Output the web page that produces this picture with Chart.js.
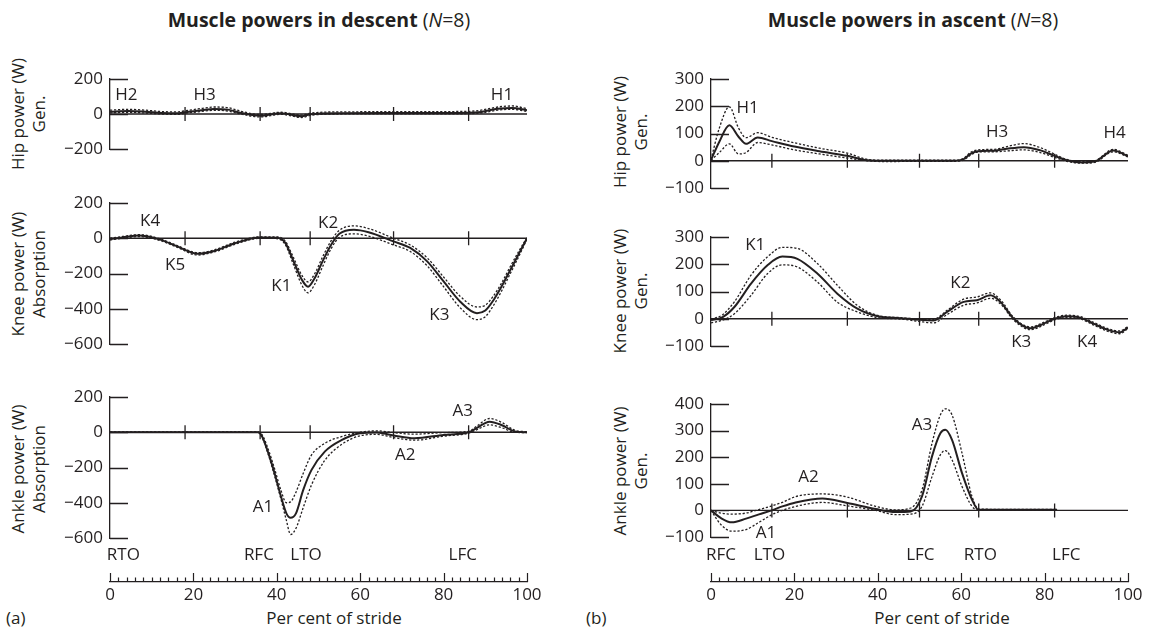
<!DOCTYPE html>
<html>
<head>
<meta charset="utf-8">
<title>Muscle powers in descent and ascent</title>
<script src="https://cdn.jsdelivr.net/npm/chart.js@4.4.1/dist/chart.umd.min.js"></script>
<style>
  body { margin: 0; background: #fff; }
  #page { position: relative; width: 1150px; height: 639px; overflow: hidden; font-family: "Open Sans", sans-serif; color: #231f20; }
  #page canvas { position: absolute; }
  .txt { position: absolute; white-space: nowrap; font-size: 17px; }
  .title { top: 6px; font-size: 19.5px; transform: translateX(-50%); }
  .ytitle { line-height: 21px; text-align: center; transform: translate(-50%, -50%) rotate(-90deg); }
  .xtitle { top: 606px; transform: translateX(-50%); }
</style>
</head>
<body>
<div id="page">
  <div class="txt title" style="left:319px"><b>Muscle powers in descent</b> (<i>N</i>=8)</div>
  <div class="txt title" style="left:913px"><b>Muscle powers in ascent</b> (<i>N</i>=8)</div>

  <div class="txt ytitle" style="left:28px;top:114px">Hip power (W)<br>Gen.</div>
  <div class="txt ytitle" style="left:28px;top:274px">Knee power (W)<br>Absorption</div>
  <div class="txt ytitle" style="left:28px;top:469px">Ankle power (W)<br>Absorption</div>
  <div class="txt ytitle" style="left:630px;top:132px">Hip power (W)<br>Gen.</div>
  <div class="txt ytitle" style="left:630px;top:291px">Knee power (W)<br>Gen.</div>
  <div class="txt ytitle" style="left:630px;top:471px">Ankle power (W)<br>Gen.</div>

  <div class="txt" style="left:6px;top:606px">(a)</div>
  <div class="txt" style="left:586px;top:606px">(b)</div>
  <div class="txt xtitle" style="left:334px">Per cent of stride</div>
  <div class="txt xtitle" style="left:942px">Per cent of stride</div>
</div>

<script>
'use strict';

const ink = '#231f20';
const fontFamily = '"Open Sans", sans-serif';

// ---- descent (a) ----
let descEvents = [18, 36, 48, 68, 86];
let descEventNames = ['RTO', 'RFC', 'LTO', 'LFC'];
let descEventAt = [3.2, 35.7, 47, 84.6];

let descHipX = [0, 4.4, 8.4, 12.4, 16, 18, 22, 25, 28.3, 31.5, 36, 41, 46, 48, 55, 68, 80, 86, 89, 93, 96.5, 100];
let descHipMean = [13, 17, 13, 6, 4, 10, 22, 29, 25, 6, -10, 4, -13, -2, 5, 6, 6, 7, 12, 30, 35, 22];
let descHipPlus = [22, 27, 22, 14, 12, 18, 32, 40, 36, 15, -3, 10, -6, 5, 12, 13, 14, 15, 22, 40, 46, 30];
let descHipMinus = [6, 10, 6, 0, -2, 4, 15, 21, 17, -1, -17, -2, -20, -8, 0, 1, 1, 2, 6, 22, 27, 15];
let descHipNotes = [['H2', 3.9, 108], ['H3', 22.7, 108], ['H1', 94, 108]];

let descKneeX = [0, 3, 7, 12, 16, 21, 25, 30, 36, 40, 42, 44, 46, 47.5, 49, 51, 53, 55, 58.5, 62, 68, 72, 76, 80, 84, 88, 90, 92, 94, 96, 98, 100];
let descKneeMean = [-5, 5, 15, -8, -45, -88, -72, -28, 4, 3, -25, -130, -235, -275, -230, -130, -38, 25, 48, 34, -18, -55, -130, -245, -360, -425, -410, -350, -270, -180, -90, 0];
let descKneePlus = [0, 10, 20, -3, -40, -82, -66, -22, 8, 8, -15, -110, -210, -248, -205, -105, -15, 45, 70, 55, 0, -38, -110, -220, -330, -390, -380, -325, -250, -160, -75, 5];
let descKneeMinus = [-10, 0, 10, -13, -50, -95, -78, -34, 0, -2, -35, -150, -265, -310, -265, -160, -60, 5, 25, 12, -38, -75, -155, -275, -395, -462, -445, -380, -295, -200, -105, -5];
let descKneeNotes = [['K4', 9.6, 95], ['K5', 15.6, -151], ['K1', 41.1, -274], ['K2', 52.3, 85], ['K3', 79, -435]];

let descAnkleX = [0, 20, 35.5, 36.5, 38, 39.5, 41, 42.3, 43.3, 44.6, 46.3, 48.3, 51.5, 55.5, 60, 64, 68, 73, 80, 86, 88, 91, 94, 97, 100];
let descAnkleMean = [0, 0, 0, -25, -120, -235, -365, -460, -485, -460, -330, -215, -110, -45, -6, -2, -18, -34, -15, 0, 25, 60, 40, 5, 0];
let descAnklePlus = [0, 0, 0, -15, -100, -210, -330, -400, -395, -340, -235, -130, -63, -25, 0, 8, -2, -11, -2, 5, 35, 78, 55, 12, 2];
let descAnkleMinus = [0, 0, 0, -30, -130, -250, -380, -500, -580, -545, -430, -300, -160, -70, -20, -12, -30, -45, -22, -5, 15, 42, 25, 0, -2];
let descAnkleNotes = [['A1', 36.7, -423], ['A2', 70.8, -129], ['A3', 84.6, 118]];

// ---- ascent (b) ----
let ascEvents = [14.6, 32.7, 50, 64.2, 82.4];
let ascEventNames = ['RFC', 'LTO', 'LFC', 'RTO', 'LFC'];
let ascEventAt = [2.4, 14, 50.2, 64.6, 85.2];

let ascHipX = [0, 2, 4.4, 6.6, 8.4, 11.2, 14.6, 20, 26, 32.7, 37.5, 42, 50, 58, 60.5, 62.2, 64, 68, 71, 75, 79, 82.4, 85.3, 89, 92, 96.5, 100];
let ascHipMean = [3, 70, 130, 88, 62, 85, 72, 52, 35, 18, 2, 0, 0, 0, 5, 25, 35, 37, 44, 50, 38, 18, 2, -6, -3, 38, 17];
let ascHipPlus = [5, 120, 198, 120, 85, 103, 86, 66, 46, 28, 5, 2, 2, 2, 8, 30, 40, 42, 52, 63, 48, 24, 5, -3, 0, 42, 20];
let ascHipMinus = [2, 30, 62, 25, 30, 67, 58, 40, 25, 10, 0, -3, -2, -2, 2, 20, 32, 33, 36, 40, 30, 12, -2, -9, -6, 33, 14];
let ascHipNotes = [['H1', 8.8, 193], ['H3', 68.6, 105], ['H4', 96.8, 101]];

let ascKneeX = [0, 2.8, 5.6, 9.6, 13.6, 17.1, 20.7, 25.5, 30.3, 35.1, 40, 45.5, 50, 53.4, 56.6, 60.6, 63.8, 67, 69.4, 72.6, 76.6, 79.8, 82.4, 85.3, 88.5, 92, 95, 98, 100];
let ascKneeMean = [-5, 6, 43, 129, 197, 228, 220, 166, 92, 37, 9, 2, -4, -6, 25, 62, 68, 86, 62, 0, -35, -18, 0, 9, 4, -20, -40, -50, -32];
let ascKneePlus = [-2, 15, 62, 160, 228, 262, 258, 203, 123, 49, 12, 4, -1, -2, 31, 72, 80, 95, 70, 5, -30, -13, 4, 13, 8, -15, -35, -45, -28];
let ascKneeMinus = [-15, -5, 18, 86, 166, 198, 190, 135, 61, 25, 4, -1, -10, -15, 15, 50, 58, 75, 55, -5, -40, -23, -4, 5, 0, -25, -45, -55, -36];
let ascKneeNotes = [['K1', 10.6, 270], ['K2', 59.8, 129], ['K3', 74.4, -86], ['K4', 90.2, -86]];

let ascAnkleX = [0, 2.4, 5, 8.4, 11.5, 14.6, 17.1, 20.3, 26.7, 32.7, 39.5, 44.3, 47.9, 50.6, 53, 55, 56.2, 57.8, 60.2, 62.6, 64.2, 70, 83];
let ascAnkleMean = [0, -29, -45, -31, -15, 0, 15, 30, 45, 28, 5, -6, -4, 53, 203, 290, 303, 265, 140, 40, 2, 2, 2];
let ascAnklePlus = [0, -10, -14, -10, 3, 17, 30, 52, 62, 50, 15, 2, 9, 77, 252, 359, 382, 359, 215, 52, 5, 4, 4];
let ascAnkleMinus = [0, -54, -78, -72, -45, -16, 0, 15, 30, 17, 0, -16, -14, 15, 127, 209, 225, 190, 90, 15, 0, 0, 0];
let ascAnkleNotes = [['A1', 13.2, -85], ['A2', 23.4, 125], ['A3', 50.6, 321]];

let strideTickLabels = [0, 20, 40, 60, 80, 100];

function minusSign(v) {
    return v < 0 ? '\u2212' + Math.abs(v) : String(v);
}

// zero line, inward y ticks, gait event marks and peak names
const panelDeco = {
    id: 'panelDeco',
    beforeDatasetsDraw(chart, args, opts) {
        let ctx = chart.ctx;
        let a = chart.chartArea;
        let x = chart.scales.x;
        let y = chart.scales.y;
        let y0 = y.getPixelForValue(0);
        ctx.save();
        ctx.strokeStyle = ink;
        ctx.lineWidth = 1.3;
        ctx.beginPath();
        ctx.moveTo(a.left, y0);
        ctx.lineTo(a.right, y0);
        y.ticks.forEach(t => {
            let py = Math.round(y.getPixelForValue(t.value)) + 0.5;
            ctx.moveTo(a.left, py);
            ctx.lineTo(a.left + 18, py);
        });
        opts.events.forEach(e => {
            let px = x.getPixelForValue(e);
            ctx.moveTo(px, y0 - 7);
            ctx.lineTo(px, y0 + 7);
        });
        ctx.stroke();
        ctx.restore();
    },
    afterDatasetsDraw(chart, args, opts) {
        let ctx = chart.ctx;
        ctx.save();
        ctx.fillStyle = ink;
        ctx.font = '17px ' + fontFamily;
        ctx.textAlign = 'center';
        ctx.textBaseline = 'middle';
        opts.notes.forEach(n => {
            ctx.fillText(n[0], chart.scales.x.getPixelForValue(n[1]), chart.scales.y.getPixelForValue(n[2]));
        });
        ctx.restore();
    }
};

function addCanvas(left, top, width, height) {
    let c = document.createElement('canvas');
    c.width = width;
    c.height = height;
    c.style.left = left + 'px';
    c.style.top = top + 'px';
    document.getElementById('page').appendChild(c);
    return c;
}

function series(xs, ys) {
    return xs.map((v, i) => ({ x: v, y: ys[i] }));
}

function makePanel(box, xs, mean, plus, minus, yMin, yMax, step, events, notes) {
    let padL = 70, padR = 30, padV = 25;
    let c = addCanvas(box.left - padL, box.top - padV, box.right - box.left + padL + padR, box.bottom - box.top + 2 * padV);
    let dotted = { borderColor: ink, borderWidth: 1.3, borderDash: [2.2, 1.8], pointRadius: 0, cubicInterpolationMode: 'monotone', fill: false };
    new Chart(c.getContext('2d'), {
        type: 'line',
        data: {
            datasets: [
                Object.assign({ label: '+SD', data: series(xs, plus) }, dotted),
                Object.assign({ label: '-SD', data: series(xs, minus) }, dotted),
                { label: 'Mean', data: series(xs, mean), borderColor: ink, borderWidth: 2, pointRadius: 0, cubicInterpolationMode: 'monotone', fill: false }
            ]
        },
        options: {
            responsive: false,
            animation: false,
            events: [],
            layout: { padding: { left: 0, right: padR, top: padV, bottom: padV } },
            plugins: { legend: { display: false }, tooltip: { enabled: false }, panelDeco: { events: events, notes: notes } },
            scales: {
                x: { type: 'linear', min: 0, max: 100, display: false },
                y: {
                    min: yMin, max: yMax,
                    afterFit: s => { s.width = padL; },
                    grid: { display: false, drawTicks: false },
                    border: { display: true, color: ink, width: 1.3 },
                    ticks: { stepSize: step, padding: 7, color: ink, font: { family: fontFamily, size: 17 }, callback: v => minusSign(v) }
                }
            }
        },
        plugins: [panelDeco]
    });
}

// per cent of stride axis with gait event names above it
const strideDeco = {
    id: 'strideDeco',
    afterDraw(chart, args, opts) {
        let ctx = chart.ctx;
        let a = chart.chartArea;
        let x = chart.scales.x;
        ctx.save();
        ctx.strokeStyle = ink;
        ctx.lineWidth = 1.2;
        ctx.beginPath();
        x.ticks.forEach(t => {
            let px = Math.round(x.getPixelForValue(t.value)) + 0.5;
            let len = strideTickLabels.includes(t.value) ? 9 : 4.5;
            ctx.moveTo(px, a.bottom);
            ctx.lineTo(px, a.bottom - len);
        });
        ctx.stroke();
        ctx.fillStyle = ink;
        ctx.font = '17px ' + fontFamily;
        ctx.textAlign = 'center';
        ctx.textBaseline = 'middle';
        opts.names.forEach((n, i) => {
            ctx.fillText(n, x.getPixelForValue(opts.at[i]), a.bottom - 27);
        });
        ctx.restore();
    }
};

function makeStride(left, right, names, at) {
    let pad = 30;
    let c = addCanvas(left - pad, 541.5, right - left + 2 * pad, 70);
    new Chart(c.getContext('2d'), {
        type: 'line',
        data: { datasets: [] },
        options: {
            responsive: false,
            animation: false,
            events: [],
            layout: { padding: { left: pad, right: pad, top: 0, bottom: 0 } },
            plugins: { legend: { display: false }, tooltip: { enabled: false }, strideDeco: { names: names, at: at } },
            scales: {
                x: {
                    type: 'linear', min: 0, max: 100, position: 'bottom',
                    afterFit: s => { s.height = 30; },
                    grid: { display: false, drawTicks: false },
                    border: { display: true, color: ink, width: 1.3 },
                    ticks: {
                        stepSize: 2, autoSkip: false, maxRotation: 0, padding: 3, color: ink,
                        font: { family: fontFamily, size: 17 },
                        callback: v => strideTickLabels.includes(v) ? String(v) : ''
                    }
                },
                y: { display: false, min: 0, max: 1 }
            }
        },
        plugins: [strideDeco]
    });
}

let descBox = { left: 110, right: 527 };
let ascBox = { left: 711, right: 1128 };

makePanel({ left: descBox.left, right: descBox.right, top: 79, bottom: 149 }, descHipX, descHipMean, descHipPlus, descHipMinus, -200, 200, 200, descEvents, descHipNotes);
makePanel({ left: descBox.left, right: descBox.right, top: 203, bottom: 344 }, descKneeX, descKneeMean, descKneePlus, descKneeMinus, -600, 200, 200, descEvents, descKneeNotes);
makePanel({ left: descBox.left, right: descBox.right, top: 397, bottom: 538 }, descAnkleX, descAnkleMean, descAnklePlus, descAnkleMinus, -600, 200, 200, descEvents, descAnkleNotes);

makePanel({ left: ascBox.left, right: ascBox.right, top: 79, bottom: 188.5 }, ascHipX, ascHipMean, ascHipPlus, ascHipMinus, -100, 300, 100, ascEvents, ascHipNotes);
makePanel({ left: ascBox.left, right: ascBox.right, top: 236.5, bottom: 345.5 }, ascKneeX, ascKneeMean, ascKneePlus, ascKneeMinus, -100, 300, 100, ascEvents, ascKneeNotes);
makePanel({ left: ascBox.left, right: ascBox.right, top: 403.5, bottom: 537 }, ascAnkleX, ascAnkleMean, ascAnklePlus, ascAnkleMinus, -100, 400, 100, ascEvents, ascAnkleNotes);

makeStride(descBox.left, descBox.right, descEventNames, descEventAt);
makeStride(ascBox.left, ascBox.right, ascEventNames, ascEventAt);
</script>
</body>
</html>
